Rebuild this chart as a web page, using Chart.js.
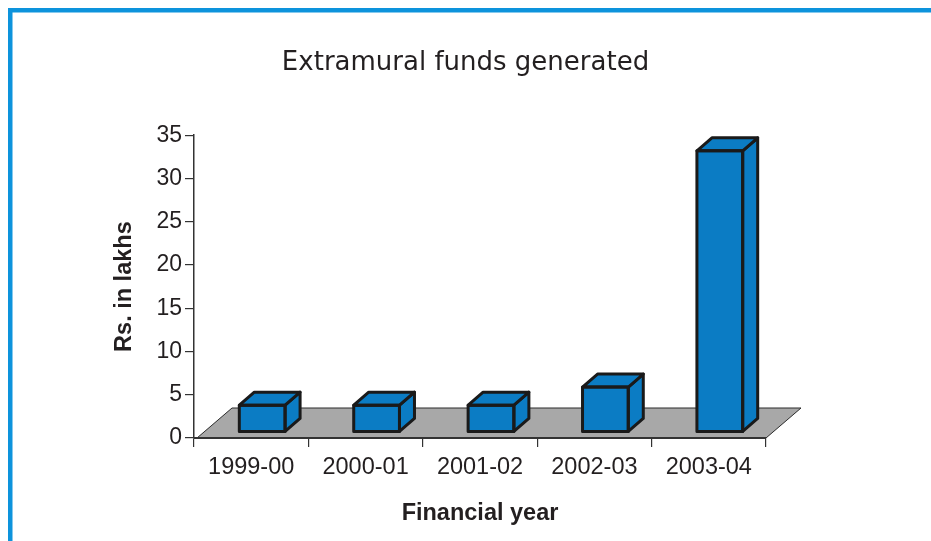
<!DOCTYPE html>
<html>
<head>
<meta charset="utf-8">
<script src="https://cdn.jsdelivr.net/npm/chart.js@4/dist/chart.umd.min.js"></script>
<style>
  html, body { margin: 0; padding: 0; background: #fff; }
  canvas { display: block; }
</style>
</head>
<body>
<canvas id="fundsChart" width="931" height="541"></canvas>
<script>
// data
var years = ["1999-00", "2000-01", "2001-02", "2002-03", "2003-04"];
var fundsLakhs = [3.1, 3.1, 3.1, 5.2, 32.5];
var yMax = 35;
var yStep = 5;

var barBlue = '#0b7cc4';
var frameBlue = '#0d93dc';
var ink = '#231f20';
var dx = 15, dy = -13;       // bar depth
var floorDx = 35, floorDy = -30;

function poly(ctx, pts) {
  ctx.beginPath();
  ctx.moveTo(pts[0][0], pts[0][1]);
  for (var i = 1; i < pts.length; i++) ctx.lineTo(pts[i][0], pts[i][1]);
  ctx.closePath();
  ctx.fill();
  ctx.stroke();
}

var depthPlugin = {
  id: 'depth3d',
  beforeDraw: function(chart) {
    var ctx = chart.ctx;
    ctx.save();
    ctx.fillStyle = '#fff';
    ctx.fillRect(0, 0, chart.width, chart.height);
    ctx.fillStyle = frameBlue;
    ctx.fillRect(8, 8, chart.width - 8, 4.5);
    ctx.fillRect(8, 8, 4.5, chart.height - 8);
    ctx.restore();
  },
  beforeDatasetsDraw: function(chart) {
    var ctx = chart.ctx, x = chart.scales.x, y = chart.scales.y;
    var y0 = y.getPixelForValue(0);
    ctx.save();
    ctx.fillStyle = '#a8a8a8';
    ctx.strokeStyle = '#2b2b2b';
    ctx.lineWidth = 1;
    poly(ctx, [[x.left + 3, y0], [x.right, y0], [x.right + floorDx, y0 + floorDy], [x.left + 3 + floorDx, y0 + floorDy]]);
    ctx.beginPath();
    ctx.moveTo(x.left, y0);
    ctx.lineTo(x.right, y0);
    ctx.lineWidth = 2;
    ctx.strokeStyle = '#333';
    ctx.stroke();
    ctx.restore();
  },
  beforeDatasetDraw: function(chart) {
    chart.ctx.save();
    chart.ctx.translate(11, -6);
  },
  afterDatasetDraw: function(chart, args) {
    var ctx = chart.ctx;
    ctx.fillStyle = barBlue;
    ctx.strokeStyle = '#1a1a1a';
    ctx.lineWidth = 3;
    ctx.lineJoin = 'round';
    args.meta.data.forEach(function(bar) {
      var p = bar.getProps(['x', 'y', 'base', 'width'], true);
      var l = p.x - p.width / 2, r = p.x + p.width / 2;
      poly(ctx, [[r, p.y], [r + dx, p.y + dy], [r + dx, p.base + dy], [r, p.base]]);
      poly(ctx, [[l, p.y], [r, p.y], [r + dx, p.y + dy], [l + dx, p.y + dy]]);
      ctx.strokeRect(l, p.y, p.width, p.base - p.y);
    });
    ctx.restore();
  }
};

Chart.defaults.font.family = '"Liberation Sans", Arial, sans-serif';
Chart.defaults.color = ink;

var ctxB = document.getElementById('fundsChart').getContext('2d');
var fundsChart = new Chart(ctxB, {
  type: 'bar',
  data: {
    labels: years,
    datasets: [{
      label: 'Extramural funds',
      data: fundsLakhs,
      backgroundColor: barBlue,
      borderWidth: 0,
      categoryPercentage: 1,
      barPercentage: 0.4
    }]
  },
  options: {
    responsive: false,
    animation: false,
    layout: { padding: 0 },
    plugins: {
      legend: { display: false },
      tooltip: { enabled: false },
      title: {
        display: true,
        text: 'Extramural funds generated',
        color: ink,
        font: { family: '"DejaVu Sans", sans-serif', size: 26, weight: 'normal' },
        padding: { top: 48, bottom: 56 }
      }
    },
    scales: {
      x: {
        afterFit: function(s) { s.height = 103; },
        grid: { drawOnChartArea: false, tickLength: 9, color: '#333', lineWidth: 1.2 },
        border: { color: '#333', width: 1.5 },
        ticks: { padding: 6, color: ink, font: { size: 23.5 } },
        title: {
          display: true,
          text: 'Financial year',
          color: ink,
          font: { size: 23.5, weight: 'bold' },
          padding: { bottom: 13 }
        }
      },
      y: {
        min: 0,
        max: yMax,
        afterFit: function(s) { s.width = 194; },
        grid: { drawOnChartArea: false, tickLength: 9, color: '#333', lineWidth: 1.2 },
        border: { color: '#333', width: 1.5 },
        ticks: { stepSize: yStep, padding: 3, color: ink, font: { size: 23 } },
        title: {
          display: true,
          text: 'Rs. in lakhs',
          color: ink,
          font: { size: 23.5, weight: 'bold' },
          padding: { top: 110 }
        }
      },
      // empty right-hand margin so the title centres on the whole page
      margin: {
        position: 'right',
        afterFit: function(s) { s.width = 165; },
        grid: { display: false },
        border: { display: false },
        ticks: { display: false }
      }
    }
  },
  plugins: [depthPlugin]
});
</script>
</body>
</html>
